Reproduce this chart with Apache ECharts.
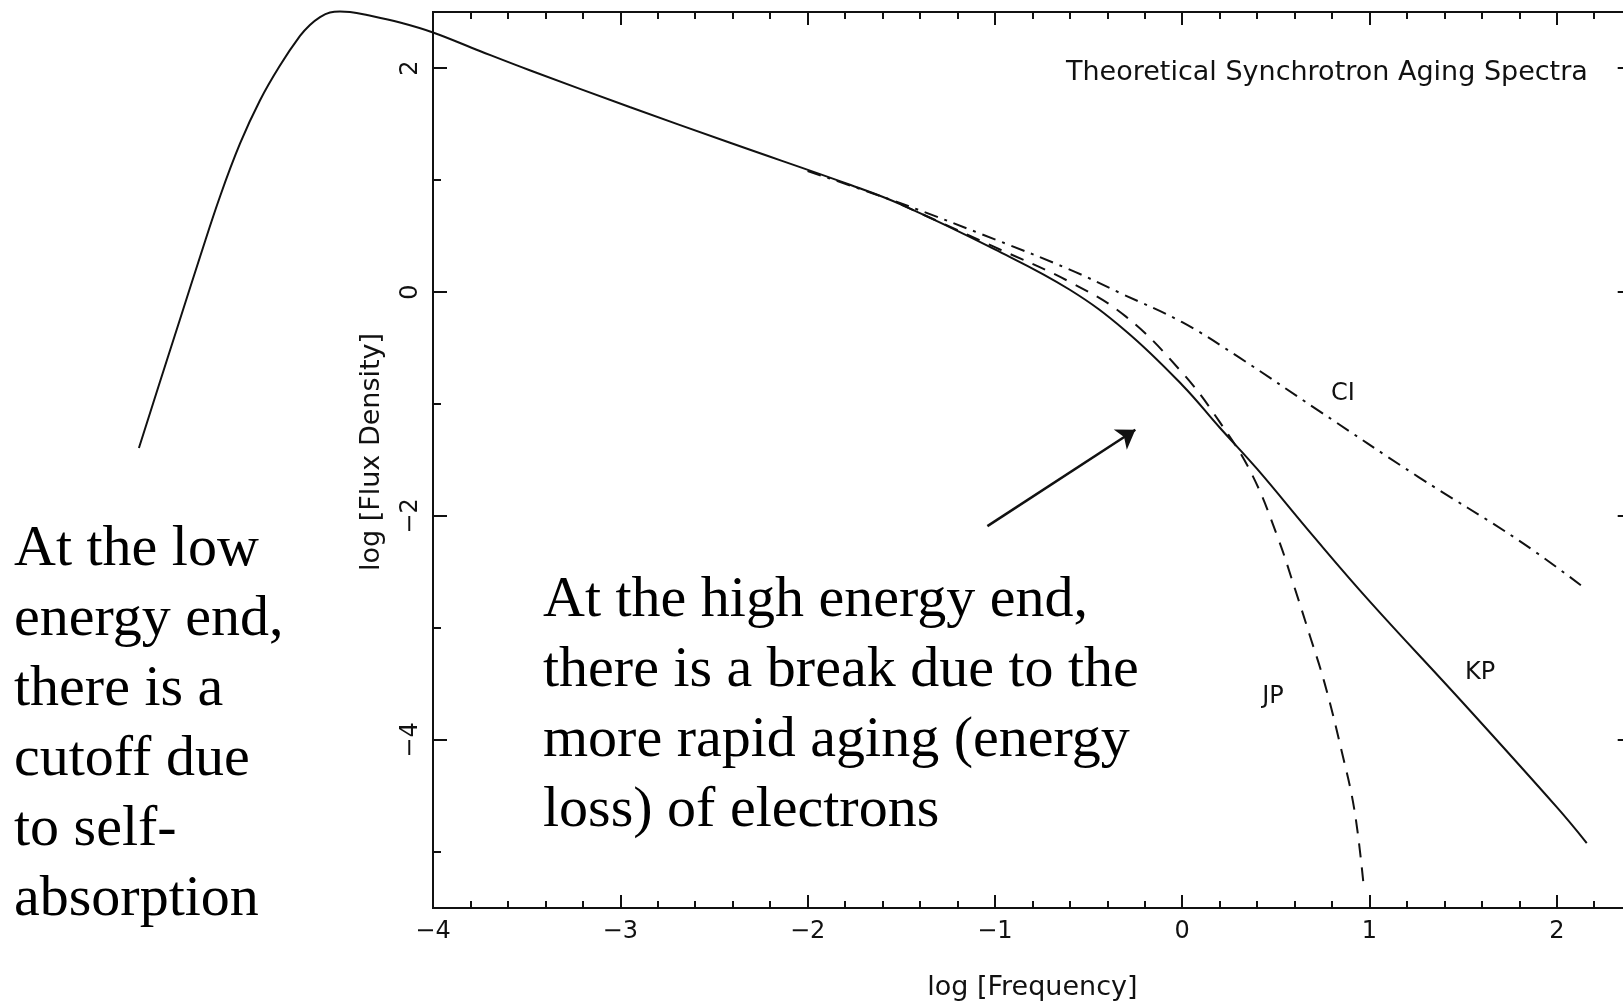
<!DOCTYPE html>
<html>
<head>
<meta charset="utf-8">
<script src="https://cdn.jsdelivr.net/npm/echarts@6/dist/echarts.min.js"></script>
<style>
html,body{margin:0;padding:0;overflow:hidden;background:#fff;}
#c{width:1650px;height:1005px;}
</style>
</head>
<body>
<div id="c"></div>
<script>
// ---- data ----
// low-energy self-absorption turnover (drawn left of the plot frame, log f < -4)
const lowEndX = [-5.570, -5.458, -5.351, -5.244, -5.137, -5.030, -4.924, -4.817, -4.710, -4.657, -4.603, -4.550, -4.497, -4.443, -4.352, -4.176];
const lowEndY = [-1.393, -0.804, -0.246, 0.313, 0.853, 1.326, 1.710, 2.022, 2.286, 2.384, 2.455, 2.496, 2.504, 2.500, 2.473, 2.406];
// KP model (solid)
const kpX = [-4.00, -3.75, -3.48, -2.95, -2.41, -1.77, -1.50, -1.00, -0.60, -0.30, 0.00, 0.20, 0.40, 0.70, 1.00, 1.50, 2.00, 2.16];
const kpY = [2.317, 2.152, 1.978, 1.652, 1.330, 0.955, 0.78, 0.38, 0.02, -0.35, -0.83, -1.21, -1.58, -2.18, -2.76, -3.67, -4.60, -4.92];
// JP model (dashed)
const jpX = [-1.50, -1.00, -0.60, -0.30, 0.00, 0.20, 0.37, 0.51, 0.60, 0.68, 0.76, 0.85, 0.92, 0.97];
const jpY = [0.78, 0.40, 0.09, -0.22, -0.72, -1.16, -1.62, -2.19, -2.64, -3.06, -3.49, -4.09, -4.63, -5.32];
// CI model (dash-dot)
const ciX = [-2.00, -1.50, -1.00, -0.60, -0.33, 0.00, 0.30, 0.72, 1.26, 1.79, 2.13];
const ciY = [1.08, 0.79, 0.47, 0.20, -0.01, -0.27, -0.58, -1.05, -1.65, -2.21, -2.62];

const xMajorTicks = [-4, -3, -2, -1, 0, 1, 2];
const xMinorTicks = [-3.8, -3.6, -3.4, -3.2, -2.8, -2.6, -2.4, -2.2, -1.8, -1.6, -1.4, -1.2,
                     -0.8, -0.6, -0.4, -0.2, 0.2, 0.4, 0.6, 0.8, 1.2, 1.4, 1.6, 1.8, 2.2];
const yMajorTicks = [-4, -2, 0, 2];
const yMinorTicks = [-5, -3, -1, 1];

const xName = 'log [Frequency]';
const yName = 'log [Flux Density]';
const chartTitle = 'Theoretical Synchrotron Aging Spectra';
const curveNames = ['CI', 'JP', 'KP'];
const noteLow = 'At the low\nenergy end,\nthere is a\ncutoff due\nto self-\nabsorption';
const noteHigh = 'At the high energy end,\nthere is a break due to the\nmore rapid aging (energy\nloss) of electrons';

// ---- helpers ----
const pairs = (xs, ys) => xs.map((x, i) => [x, ys[i]]);
const INK = '#111';
const SANS = '"DejaVu Sans", "Liberation Sans", sans-serif';
const SERIF = '"Liberation Serif", "Times New Roman", serif';
const fmt = v => String(v).replace('-', '\u2212');

function xAx(grid, pos, ticks, len, withLabels) {
  const a = {
    type: 'value', gridIndex: grid, position: pos, min: -4, max: 2.4,
    axisLine: {show: true, onZero: false, lineStyle: {color: INK, width: 2}},
    axisTick: {show: true, inside: true, length: len, customValues: ticks, lineStyle: {color: INK, width: 2}},
    axisLabel: {show: withLabels, customValues: ticks, formatter: fmt, margin: 12,
      color: INK, fontFamily: SANS, fontSize: 24},
    splitLine: {show: false}
  };
  if (withLabels) {
    a.name = xName; a.nameLocation = 'middle'; a.nameGap = 66;
    a.nameTextStyle = {color: INK, fontFamily: SANS, fontSize: 27};
  }
  return a;
}
function yAx(grid, pos, ticks, len, withLabels) {
  const a = {
    type: 'value', gridIndex: grid, position: pos, min: -5.5, max: 2.5,
    axisLine: {show: true, onZero: false, lineStyle: {color: INK, width: 2}},
    axisTick: {show: true, inside: true, length: len, customValues: ticks, lineStyle: {color: INK, width: 2}},
    axisLabel: {show: withLabels, customValues: ticks, formatter: fmt, rotate: 90, margin: 10,
      color: INK, fontFamily: SANS, fontSize: 24},
    splitLine: {show: false}
  };
  if (withLabels) {
    a.name = yName; a.nameLocation = 'middle'; a.nameGap = 48; a.nameRotate = 90;
    a.nameTextStyle = {color: INK, fontFamily: SANS, fontSize: 27, padding: [0, 0, 0, 16]};
  }
  return a;
}

// framed plot (log f from -4 to 2.4)
const gridBox = {left: 433, top: 12, right: 18.3, bottom: 97, outerBoundsMode: 'none', containLabel: false};
// hidden data grid with the same scale, extended to the left so the turnover below log f = -4 can be drawn
const dataBox = {left: 133.3, top: 12, right: 18.3, bottom: 97, outerBoundsMode: 'none', containLabel: false};

const line = (name, data, type, extra) => Object.assign({
  name, type: 'line', data, xAxisIndex: 4, yAxisIndex: 4,
  showSymbol: false, symbol: 'none', smooth: 0.4, clip: false,
  lineStyle: {color: INK, width: 2, type}, z: 5
}, extra || {});

const chart = echarts.init(document.getElementById('c'), null, {renderer: 'canvas'});
chart.setOption({
  animation: false,
  backgroundColor: '#fff',
  grid: [Object.assign({}, gridBox), Object.assign({}, gridBox), Object.assign({}, gridBox), Object.assign({}, gridBox), dataBox],
  xAxis: [
    xAx(0, 'bottom', xMajorTicks, 13, true),
    xAx(1, 'bottom', xMinorTicks, 7, false),
    xAx(2, 'top', xMajorTicks, 13, false),
    xAx(3, 'top', xMinorTicks, 7, false),
    {type: 'value', gridIndex: 4, min: -5.6, max: 2.4, show: false}
  ],
  yAxis: [
    yAx(0, 'left', yMajorTicks, 14, true),
    yAx(1, 'left', yMinorTicks, 8, false),
    yAx(2, 'right', yMajorTicks, 14, false),
    yAx(3, 'right', yMinorTicks, 8, false),
    {type: 'value', gridIndex: 4, min: -5.5, max: 2.5, show: false}
  ],
  series: [
    line(curveNames[2], pairs(lowEndX, lowEndY).concat(pairs(kpX, kpY)), 'solid', {
      markLine: {
        silent: true, symbol: ['none', 'arrow'], symbolSize: 18,
        label: {show: false},
        lineStyle: {color: INK, width: 2.5, type: 'solid'},
        itemStyle: {color: INK},
        data: [[{coord: [-1.04, -2.09]}, {coord: [-0.25, -1.23]}]]
      }
    }),
    line(curveNames[1], pairs(jpX, jpY), [14, 10]),
    line(curveNames[0], pairs(ciX, ciY), [14, 7, 3, 7])
  ],
  graphic: [
    {type: 'text', x: 1066, y: 73, style: {text: chartTitle, fill: INK, font: '27px ' + SANS, verticalAlign: 'middle', align: 'left'}},
    {type: 'text', x: 1343, y: 394, style: {text: curveNames[0], fill: INK, font: '24px ' + SANS, align: 'center', verticalAlign: 'middle'}},
    {type: 'text', x: 1273, y: 697, style: {text: curveNames[1], fill: INK, font: '24px ' + SANS, align: 'center', verticalAlign: 'middle'}},
    {type: 'text', x: 1480, y: 673, style: {text: curveNames[2], fill: INK, font: '24px ' + SANS, align: 'center', verticalAlign: 'middle'}},
    {type: 'text', x: 14, y: 515, style: {text: noteLow, fill: '#000', font: '58px ' + SERIF, lineHeight: 70, align: 'left', verticalAlign: 'top'}},
    {type: 'text', x: 543, y: 566, style: {text: noteHigh, fill: '#000', font: '58px ' + SERIF, lineHeight: 70, align: 'left', verticalAlign: 'top'}}
  ]
});
</script>
</body>
</html>
